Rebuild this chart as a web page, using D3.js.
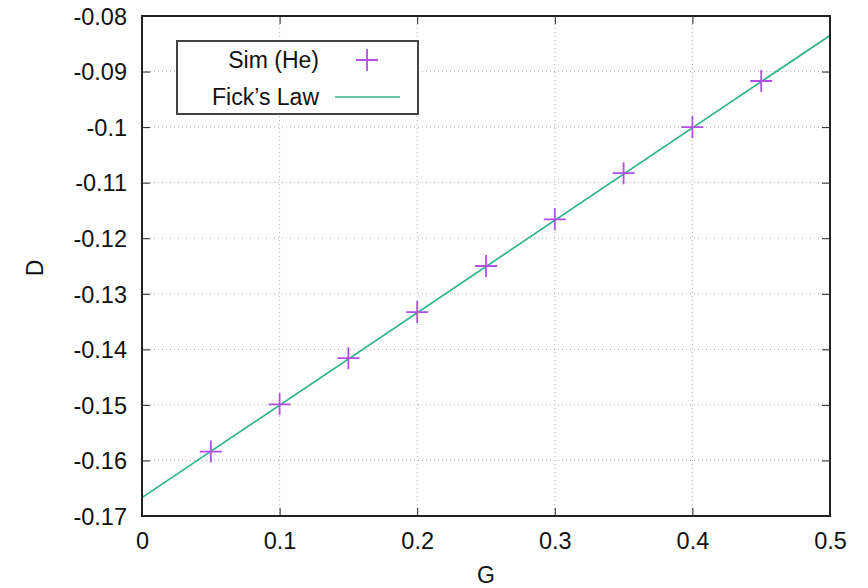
<!DOCTYPE html>
<html>
<head>
<meta charset="utf-8">
<script src="https://cdn.jsdelivr.net/npm/d3@7"></script>
<style>
  body { margin: 0; background: #fff; }
  svg { display: block; font-family: "Liberation Sans", Arial, sans-serif; }
  .grid line { stroke: #b0b0b0; stroke-width: 1; stroke-dasharray: 1 3; }
  .tick-label { font-size: 23.5px; fill: #111; }
</style>
</head>
<body>
<svg id="chart" width="868" height="588"></svg>
<script>
// Simulation points (He).
var simG = [0.05, 0.10, 0.15, 0.20, 0.25, 0.30, 0.35, 0.40, 0.45];
var simD = [-0.1584, -0.1499, -0.1416, -0.1333, -0.1250, -0.1166, -0.1083, -0.1000, -0.0917];

// Fick's law line endpoints.
var fickG = [0, 0.5];
var fickD = [-0.1667, -0.0835];

// Ticks.
var xTicks = [0, 0.1, 0.2, 0.3, 0.4, 0.5];
var yTicks = [-0.17, -0.16, -0.15, -0.14, -0.13, -0.12, -0.11, -0.1, -0.09, -0.08];

var legendLabels = ["Sim (He)", "Fick\u2019s Law"];

(function() {

  var purple = "#b150e2";
  var green = "#2fb489";

  // Plot frame.
  var pl = 142, pr = 830, pt = 16, pb = 516;
  var fontSize = 23;

  var svg = d3.select("#chart");

  var x = d3.scaleLinear().domain([0, 0.5]).range([pl, pr]);
  var y = d3.scaleLinear().domain([-0.17, -0.08]).range([pb, pt]);

  var fmt = function(d) { return String(+d.toFixed(2)); };

  // Grid lines.
  var grid = svg.append("g").attr("class", "grid");
  grid.selectAll(".gx")
    .data(xTicks.slice(1, -1))
    .enter().append("line")
    .attr("x1", function(d) { return x(d); })
    .attr("x2", function(d) { return x(d); })
    .attr("y1", pt).attr("y2", pb);
  grid.selectAll(".gy")
    .data(yTicks.slice(1, -1))
    .enter().append("line")
    .attr("y1", function(d) { return y(d); })
    .attr("y2", function(d) { return y(d); })
    .attr("x1", pl).attr("x2", pr);

  // Axes with inward ticks on all four sides.
  var tickLen = 8;
  svg.append("g")
    .attr("transform", "translate(0," + pb + ")")
    .call(d3.axisBottom(x).tickValues(xTicks).tickSize(-tickLen).tickPadding(16).tickFormat(fmt))
    .call(function(g) {
      g.select(".domain").remove();
      g.selectAll("line").attr("stroke", "#222");
      g.selectAll("text").attr("class", "tick-label").attr("dy", "0.71em");
    });
  svg.append("g")
    .attr("transform", "translate(0," + pt + ")")
    .call(d3.axisTop(x).tickValues(xTicks).tickSize(-tickLen).tickFormat(""))
    .call(function(g) {
      g.select(".domain").remove();
      g.selectAll("line").attr("stroke", "#222");
    });
  svg.append("g")
    .attr("transform", "translate(" + pl + ",0)")
    .call(d3.axisLeft(y).tickValues(yTicks).tickSize(-tickLen).tickPadding(15).tickFormat(fmt))
    .call(function(g) {
      g.select(".domain").remove();
      g.selectAll("line").attr("stroke", "#222");
      g.selectAll("text").attr("class", "tick-label").attr("dy", "0.35em");
    });
  svg.append("g")
    .attr("transform", "translate(" + pr + ",0)")
    .call(d3.axisRight(y).tickValues(yTicks).tickSize(-tickLen).tickFormat(""))
    .call(function(g) {
      g.select(".domain").remove();
      g.selectAll("line").attr("stroke", "#222");
    });

  // Fick's law line.
  var line = d3.line()
    .x(function(d) { return x(d[0]); })
    .y(function(d) { return y(d[1]); });
  svg.append("path")
    .datum(d3.zip(fickG, fickD))
    .attr("d", line)
    .attr("fill", "none")
    .attr("stroke", green)
    .attr("stroke-width", 1.7);

  // Simulation crosses.
  var cross = 11;
  function crossPath(cx, cy) {
    return "M" + (cx - cross) + "," + cy + "H" + (cx + cross) +
           "M" + cx + "," + (cy - cross) + "V" + (cy + cross);
  }
  svg.selectAll(".pt")
    .data(d3.zip(simG, simD))
    .enter().append("path")
    .attr("class", "pt")
    .attr("d", function(d) { return crossPath(x(d[0]), y(d[1])); })
    .attr("stroke", purple)
    .attr("stroke-width", 1.8)
    .attr("fill", "none");

  // Frame.
  svg.append("rect")
    .attr("x", pl).attr("y", pt)
    .attr("width", pr - pl).attr("height", pb - pt)
    .attr("fill", "none")
    .attr("stroke", "#222")
    .attr("stroke-width", 2);

  // Axis titles.
  svg.append("text")
    .attr("x", (pl + pr) / 2).attr("y", 575)
    .attr("dy", "0.35em")
    .attr("text-anchor", "middle")
    .attr("font-size", fontSize)
    .attr("fill", "#111")
    .text("G");
  svg.append("text")
    .attr("transform", "translate(35,268) rotate(-90)")
    .attr("dy", "0.35em")
    .attr("text-anchor", "middle")
    .attr("font-size", fontSize)
    .attr("fill", "#111")
    .text("D");

  // Legend.
  var lg = svg.append("g");
  lg.append("rect")
    .attr("x", 177).attr("y", 41)
    .attr("width", 241).attr("height", 73)
    .attr("fill", "#fff")
    .attr("stroke", "#444")
    .attr("stroke-width", 2);
  lg.selectAll(".lt")
    .data(legendLabels)
    .enter().append("text")
    .attr("x", 319)
    .attr("y", function(d, i) { return 60 + i * 37; })
    .attr("dy", "0.35em")
    .attr("text-anchor", "end")
    .attr("font-size", fontSize)
    .attr("fill", "#111")
    .text(function(d) { return d; });
  lg.append("path")
    .attr("d", crossPath(367, 60))
    .attr("stroke", purple)
    .attr("stroke-width", 1.8);
  lg.append("line")
    .attr("x1", 335).attr("x2", 400)
    .attr("y1", 97).attr("y2", 97)
    .attr("stroke", green)
    .attr("stroke-width", 1.7);

})();
</script>
</body>
</html>
